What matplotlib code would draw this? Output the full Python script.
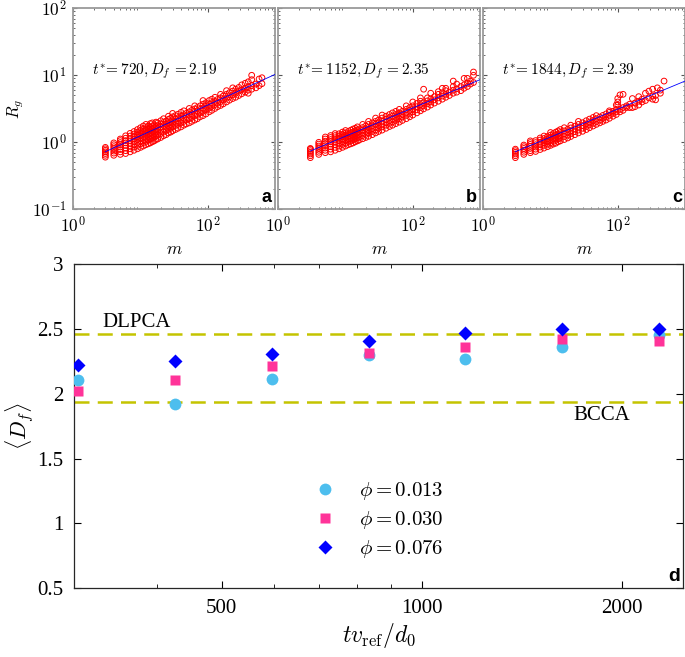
import numpy as np
import matplotlib.pyplot as plt
from matplotlib import ticker

plt.rcParams['font.family'] = ['Liberation Serif', 'DejaVu Serif']
plt.rcParams['mathtext.fontset'] = 'cm'

# ---- panels a-c : R_g against cluster size m (columns of points per m) ----
a_m = [3, 4, 5, 6, 7, 8, 9, 10, 11, 12, 13, 14, 15, 16, 17, 18, 20, 22, 24, 26,
       28, 30, 33, 36, 40, 44, 48, 53, 58, 64, 70, 77, 85, 94, 105, 115, 128,
       140, 155, 170, 190, 210, 235, 260, 290, 320, 360, 400, 450, 520, 580, 640]
a_rg = [[0.60, 0.64, 0.68, 0.72, 0.76, 0.80, 0.84],
        [0.64, 0.69, 0.74, 0.80, 0.86, 0.92, 0.98],
        [0.66, 0.72, 0.78, 0.85, 0.92, 0.99, 1.06, 1.12],
        [0.68, 0.75, 0.82, 0.90, 0.98, 1.06, 1.15, 1.25],
        [0.72, 0.80, 0.88, 0.96, 1.05, 1.14, 1.24, 1.36],
        [0.76, 0.85, 0.94, 1.03, 1.12, 1.22, 1.33, 1.45],
        [0.80, 0.90, 1.00, 1.10, 1.20, 1.30, 1.42, 1.55],
        [0.84, 0.95, 1.05, 1.15, 1.26, 1.38, 1.50, 1.65],
        [0.88, 0.99, 1.10, 1.21, 1.33, 1.45, 1.58, 1.75],
        [0.92, 1.03, 1.15, 1.27, 1.39, 1.52, 1.66, 1.85],
        [0.95, 1.08, 1.20, 1.32, 1.45, 1.60, 1.75],
        [0.98, 1.12, 1.25, 1.38, 1.52, 1.68, 1.90],
        [1.02, 1.16, 1.30, 1.44, 1.58, 1.75, 1.95],
        [1.05, 1.20, 1.34, 1.48, 1.64, 1.82],
        [1.10, 1.25, 1.40, 1.55, 1.72, 2.00],
        [1.12, 1.28, 1.44, 1.60, 1.78, 1.95],
        [1.18, 1.35, 1.52, 1.70, 1.88, 2.10],
        [1.25, 1.42, 1.60, 1.78, 1.98, 2.25],
        [1.30, 1.50, 1.68, 1.86, 2.08],
        [1.38, 1.56, 1.75, 1.95, 2.20, 2.45],
        [1.42, 1.62, 1.82, 2.02, 2.28],
        [1.48, 1.70, 1.90, 2.10, 2.40, 2.70],
        [1.55, 1.78, 2.00, 2.22, 2.50],
        [1.62, 1.85, 2.08, 2.32, 2.62],
        [1.70, 1.95, 2.20, 2.45, 2.80],
        [1.80, 2.05, 2.30, 2.58, 2.95],
        [1.88, 2.15, 2.42, 2.70],
        [1.95, 2.25, 2.55, 2.85, 3.20],
        [2.05, 2.35, 2.65, 3.00],
        [2.15, 2.48, 2.80, 3.15, 3.50],
        [2.25, 2.60, 2.95, 3.30],
        [2.40, 2.75, 3.10, 3.50],
        [2.50, 2.90, 3.25, 3.70, 4.20],
        [2.65, 3.05, 3.45, 3.90],
        [2.85, 3.25, 3.70, 4.20],
        [3.00, 3.45, 3.90, 4.40],
        [3.20, 3.65, 4.10, 4.70],
        [3.40, 3.85, 4.35],
        [3.55, 4.05, 4.60, 5.20],
        [3.75, 4.30, 4.90],
        [4.00, 4.55, 5.20, 5.90],
        [4.25, 4.80, 5.50],
        [4.50, 5.10, 5.80, 6.50],
        [4.70, 5.40, 6.20],
        [5.00, 5.80, 6.60],
        [5.30, 6.10, 7.20],
        [5.60, 6.40, 7.60],
        [5.40, 6.00, 6.80, 8.00],
        [6.20, 7.00, 8.60, 10.0],
        [6.50, 7.40],
        [7.00, 8.80],
        [7.50, 9.20]]

b_m = [3, 4, 5, 6, 7, 8, 9, 10, 11, 12, 13, 14, 15, 16, 18, 20, 22, 25, 28, 31,
       35, 40, 45, 50, 56, 63, 70, 80, 90, 100, 115, 130, 145, 165, 185, 210,
       240, 275, 310, 350, 400, 450, 520, 580, 650, 720, 800]
b_rg = [[0.59, 0.63, 0.67, 0.71, 0.75, 0.79, 0.81],
        [0.66, 0.71, 0.76, 0.82, 0.88, 0.94, 1.00],
        [0.70, 0.76, 0.82, 0.89, 0.96, 1.04, 1.12, 1.20],
        [0.72, 0.79, 0.86, 0.94, 1.02, 1.10, 1.18, 1.26],
        [0.76, 0.84, 0.92, 1.00, 1.08, 1.17, 1.26, 1.35],
        [0.80, 0.88, 0.97, 1.06, 1.15, 1.24, 1.34],
        [0.84, 0.93, 1.02, 1.11, 1.21, 1.31, 1.42],
        [0.88, 0.97, 1.07, 1.17, 1.27, 1.38, 1.50],
        [0.92, 1.02, 1.12, 1.22, 1.33, 1.45],
        [0.95, 1.05, 1.16, 1.27, 1.38, 1.52],
        [0.98, 1.09, 1.20, 1.31, 1.43, 1.58],
        [1.02, 1.13, 1.24, 1.36, 1.48, 1.62],
        [1.05, 1.16, 1.28, 1.40, 1.53, 1.70],
        [1.08, 1.20, 1.32, 1.44, 1.58],
        [1.13, 1.26, 1.39, 1.52, 1.66, 1.85],
        [1.18, 1.31, 1.45, 1.60, 1.75],
        [1.23, 1.37, 1.52, 1.67, 1.85, 2.05],
        [1.30, 1.45, 1.60, 1.76, 1.95],
        [1.38, 1.53, 1.70, 1.86, 2.05, 2.30],
        [1.45, 1.62, 1.78, 1.96, 2.15],
        [1.52, 1.70, 1.88, 2.06, 2.30, 2.55],
        [1.62, 1.80, 2.00, 2.20, 2.45],
        [1.72, 1.92, 2.12, 2.34, 2.60],
        [1.80, 2.02, 2.24, 2.46, 2.75],
        [1.90, 2.12, 2.35, 2.60, 2.90],
        [2.00, 2.25, 2.50, 2.75, 3.10],
        [2.12, 2.38, 2.62, 2.90],
        [2.25, 2.52, 2.80, 3.10, 3.50],
        [2.40, 2.70, 3.00, 3.30],
        [2.55, 2.85, 3.15, 3.50, 4.00],
        [2.75, 3.05, 3.40, 3.80],
        [2.95, 3.30, 3.65, 4.10, 4.60],
        [3.15, 3.50, 3.90, 6.20],
        [3.35, 3.75, 4.15, 4.60],
        [3.60, 4.00, 4.45, 5.40],
        [3.85, 4.30, 4.80],
        [4.10, 4.60, 5.20, 5.70],
        [4.40, 4.90, 5.50, 6.40],
        [4.70, 5.20, 5.90, 6.40],
        [5.00, 5.60],
        [5.40, 6.00, 6.80, 8.20],
        [5.60, 6.30, 7.40],
        [5.90, 6.80],
        [6.40, 7.20, 9.00],
        [6.80, 7.60, 9.00],
        [7.40, 8.20],
        [7.80, 10.0, 11.2]]

c_m = [3, 4, 5, 6, 7, 8, 9, 10, 11, 12, 13, 14, 16, 18, 20, 23, 26, 30, 34, 38,
       43, 48, 54, 60, 67, 75, 85, 95, 100, 108, 120, 135, 150, 165, 180, 205,
       230, 258, 290, 330, 365, 388, 430, 488]
c_rg = [[0.59, 0.63, 0.67, 0.71, 0.75, 0.79],
        [0.66, 0.71, 0.76, 0.81, 0.86, 0.91],
        [0.70, 0.75, 0.81, 0.87, 0.93, 0.99, 1.05],
        [0.73, 0.79, 0.85, 0.92, 0.99, 1.06],
        [0.78, 0.85, 0.92, 1.00, 1.08, 1.16],
        [0.82, 0.90, 0.98, 1.06, 1.14, 1.24],
        [0.86, 0.94, 1.03, 1.12, 1.22],
        [0.90, 0.98, 1.08, 1.18, 1.28, 1.40],
        [0.94, 1.03, 1.13, 1.23, 1.35],
        [0.97, 1.07, 1.17, 1.28, 1.42],
        [1.02, 1.12, 1.22, 1.34, 1.48],
        [1.05, 1.16, 1.27, 1.40, 1.55],
        [1.10, 1.22, 1.34, 1.48, 1.65],
        [1.16, 1.28, 1.42, 1.56],
        [1.22, 1.35, 1.48, 1.64, 1.80],
        [1.30, 1.44, 1.58, 1.74],
        [1.38, 1.52, 1.68, 1.85, 2.05],
        [1.46, 1.62, 1.78, 1.96],
        [1.55, 1.72, 1.88, 2.10],
        [1.65, 1.82, 2.00, 2.22],
        [1.75, 1.92, 2.12, 2.35],
        [1.85, 2.04, 2.25, 2.50],
        [1.95, 2.15, 2.38],
        [2.05, 2.28, 2.52],
        [2.15, 2.40, 2.65],
        [2.28, 2.52, 2.80, 2.95],
        [2.45, 2.70, 2.90],
        [2.60, 2.85, 3.10, 3.60],
        [3.60, 4.00, 4.50],
        [2.85, 3.10, 5.10],
        [3.00, 3.30, 5.20],
        [3.30, 3.50],
        [3.30, 3.70],
        [3.30, 4.50],
        [3.40, 3.85],
        [3.60, 4.10, 4.80],
        [4.00, 4.40],
        [4.20, 5.40],
        [4.60, 5.80],
        [4.40, 4.90, 6.20],
        [4.30, 5.00],
        [6.50],
        [5.40, 6.00],
        [8.20]]

# fitted power laws, read as end points (m, R_g)
a_fit = ([3, 1000], [0.724, 10.3])
b_fit = ([3, 1000], [0.741, 8.6])
c_fit = ([3, 1000], [0.724, 8.2])
tags = ['a', 'b', 'c']
notes = [r'$t^{*}\!=720, D_f\,=2.19$', r'$t^{*}\!=1152, D_f\,=2.35$',
         r'$t^{*}\!=1844, D_f\,=2.39$']

# ---- panel d : mean fractal dimension over time ----
t_ref = [304, 425, 596, 833, 1163, 1627, 2278]
df_013 = [2.108, 1.923, 2.115, 2.295, 2.266, 2.364, 2.456]
df_030 = [2.020, 2.108, 2.212, 2.312, 2.362, 2.423, 2.405]
df_076 = [2.218, 2.256, 2.308, 2.408, 2.469, 2.502, 2.500]
dlpca = 2.46
bcca = 1.94

fig = plt.figure(figsize=(6.85, 6.57), dpi=100)

lefts = [73.3, 278.3, 483.3]
datasets = [(a_m, a_rg, a_fit), (b_m, b_rg, b_fit), (c_m, c_rg, c_fit)]
for i, (ms, rgs, fit) in enumerate(datasets):
    ax = fig.add_axes([lefts[i] / 685, 1 - 209.3 / 657, 201.7 / 685, 201 / 657])
    xs = np.concatenate([[m] * len(r) for m, r in zip(ms, rgs)])
    ys = np.concatenate([r for r in rgs])
    ax.scatter(xs, ys, s=17, facecolors='none', edgecolors='red', linewidths=0.7, zorder=2)
    ax.plot(fit[0], fit[1], color='blue', lw=0.6, zorder=3)
    ax.set_xscale('log')
    ax.set_yscale('log')
    ax.set_xlim(1, 1000)
    ax.set_ylim(0.1, 100)
    ax.set_xticks([1, 100])
    ax.set_xticklabels([r'$10^{0}$', r'$10^{2}$'], fontsize=12.5)
    ax.xaxis.set_minor_locator(ticker.LogLocator(subs=np.arange(2, 10), numticks=20))
    ax.set_yticks([0.1, 1, 10, 100])
    if i == 0:
        ax.set_yticklabels([r'$10^{-1}$', r'$10^{0}$', r'$10^{1}$', r'$10^{2}$'], fontsize=12.5)
        ax.set_ylabel(r'$R_g$', fontsize=12, labelpad=4)
    else:
        ax.set_yticklabels([])
    ax.yaxis.set_minor_locator(ticker.LogLocator(subs=np.arange(2, 10), numticks=20))
    ax.yaxis.set_minor_formatter(ticker.NullFormatter())
    ax.xaxis.set_minor_formatter(ticker.NullFormatter())
    ax.tick_params(which='both', direction='in', top=True, right=True, colors='#555555',
                   labelcolor='black', pad=5)
    ax.tick_params(which='major', length=3)
    ax.tick_params(which='minor', length=1.5)
    for sp in ax.spines.values():
        sp.set_color('#9a9a9a')
        sp.set_linewidth(1.3)
    ax.set_xlabel(r'$m$', fontsize=12.5, labelpad=4)
    ax.text(0.095, 0.685, notes[i], transform=ax.transAxes, fontsize=11,
            ha='left', va='center')
    ax.text(0.985, 0.015, tags[i], transform=ax.transAxes, fontsize=13,
            fontweight='bold', family='Liberation Sans', ha='right', va='bottom')

ax = fig.add_axes([74.4 / 685, 1 - 588.3 / 657, 608.9 / 685, 324.3 / 657])
ax.axhline(dlpca, color='#c4c400', lw=1.8, ls=(0, (6, 3.3)), zorder=1)
ax.axhline(bcca, color='#c4c400', lw=1.8, ls=(0, (6, 3.3)), zorder=1)
ax.plot(t_ref, df_013, 'o', color='#4dbeee', ms=8.5, mec='none', label=r'$\phi=0.013$', zorder=3)
ax.plot(t_ref, df_030, 's', color='#ff3399', ms=7, mec='none', label=r'$\phi=0.030$', zorder=4)
ax.plot(t_ref, df_076, 'D', color='#0000ff', ms=7, mec='none', label=r'$\phi=0.076$', zorder=5)
ax.set_xscale('log')
ax.set_xlim(300, 2477)
ax.set_ylim(0.5, 3)
ax.set_xticks([500, 1000, 2000])
ax.set_xticklabels(['500', '1000', '2000'])
ax.xaxis.set_minor_locator(ticker.FixedLocator([300, 400, 600, 700, 800, 900]))
ax.xaxis.set_minor_formatter(ticker.NullFormatter())
ax.set_yticks([0.5, 1, 1.5, 2, 2.5, 3])
ax.set_yticklabels(['0.5', '1', '1.5', '2', '2.5', '3'])
ax.tick_params(which='both', direction='in', top=True, right=True, labelsize=15, pad=8)
ax.tick_params(which='major', length=5)
ax.tick_params(which='minor', length=3)
for sp in ax.spines.values():
    sp.set_color('#262626')
    sp.set_linewidth(0.9)
ax.text(330, 2.55, 'DLPCA', fontsize=15, ha='left', va='center')
ax.text(1690, 1.83, 'BCCA', fontsize=15, ha='left', va='center')
ax.text(0.995, 0.01, 'd', transform=ax.transAxes, fontsize=14, fontweight='bold',
        family='Liberation Sans', ha='right', va='bottom')
ax.set_xlabel(r'$tv_{\mathrm{ref}}/d_0$', fontsize=17, labelpad=2)
ax.set_ylabel(r'$\langle D_f \rangle$', fontsize=16, labelpad=1)
ax.legend(loc='center left', bbox_to_anchor=(0.354, 0.21), frameon=False, fontsize=15,
          handletextpad=0.6, labelspacing=0.35, borderpad=0.2)

fig.savefig('out.png', dpi=100)
